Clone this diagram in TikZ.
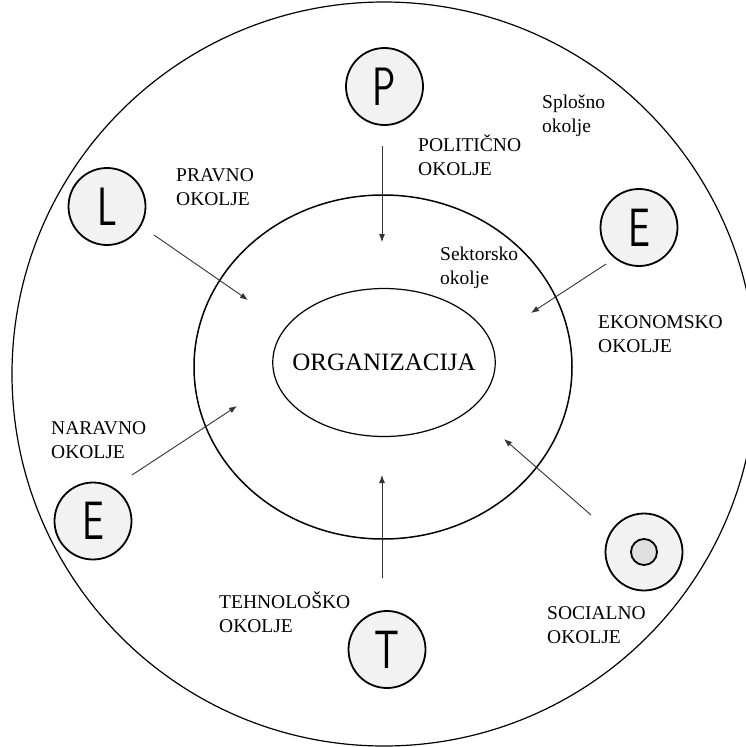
\documentclass[tikz,border=0pt]{standalone}
\usepackage{fontspec}
\setmainfont{Liberation Serif}
\usetikzlibrary{arrows.meta,shapes.geometric}
\newcommand{\pestle}[1]{\scalebox{0.72}[1]{#1}}

\begin{document}
\begin{tikzpicture}[
  x=1pt, y=-1pt,
  font=\fontsize{19.5}{24}\selectfont, >={Latex[length=8pt,width=6pt]},
  ring/.style={draw=black, line width=1.2pt, inner sep=0pt},
  letter/.style={circle, draw=black, line width=1.8pt, fill=black!5, minimum size=77pt, inner sep=0pt, font=\sffamily\fontsize{54}{54}\selectfont},
  lbl/.style={anchor=north west, inner sep=0pt, align=left},
  arr/.style={->, draw=black!80, line width=0.9pt},
]
  \useasboundingbox (0,0) rectangle (745,747);
  \node[ring, circle, minimum size=744pt] (gen) at (384,374) {};
  \node[ring, ellipse, line width=1.5pt, minimum width=378pt, minimum height=344pt] (sect) at (383,367) {};
  \node[ring, ellipse, inner xsep=-13pt, minimum width=217pt, minimum height=148pt, font=\fontsize{25}{29}\selectfont] (org) at (384,362.5) {ORGANIZACIJA};

  \node[letter] (pol) at (384.5,86.5) {\pestle{P}};
  \node[letter] (prav) at (107,206.5) {\pestle{L}};
  \node[letter] (eko) at (639,227.5) {\pestle{E}};
  \node[letter] (nar) at (93,521) {\pestle{E}};
  \node[letter] (teh) at (387,649.5) {\pestle{T}};
  \node[letter] (soc) at (644,552) {};
  \node[circle, draw=black, line width=1.8pt, fill=black!12, minimum size=26pt] (socin) at (soc.center) {};

  \node[lbl] (lgen) at (542,95) {Splošno\\okolje};
  \node[lbl] (lsect) at (440,247) {Sektorsko\\okolje};
  \node[lbl] (lpol) at (418,135) {POLITIČNO\\OKOLJE};
  \node[lbl] (lprav) at (176,168) {PRAVNO\\OKOLJE};
  \node[lbl] (leko) at (598,315) {EKONOMSKO\\OKOLJE};
  \node[lbl] (lnar) at (51,421) {NARAVNO\\OKOLJE};
  \node[lbl] (lteh) at (219,592) {TEHNOLOŠKO\\OKOLJE};
  \node[lbl] (lsoc) at (547,606) {SOCIALNO\\OKOLJE};

  \coordinate (polA) at (382,146);  \coordinate (polB) at (382,242);
  \coordinate (pravA) at (154,235); \coordinate (pravB) at (248,300);
  \coordinate (ekoA) at (606,264);  \coordinate (ekoB) at (531,313);
  \coordinate (narA) at (132,475);  \coordinate (narB) at (237,406);
  \coordinate (tehA) at (382,578);  \coordinate (tehB) at (382,475);
  \coordinate (socA) at (591,515);  \coordinate (socB) at (504,439);
  \foreach \a in {pol,prav,eko,nar,teh,soc} \draw[arr] (\a A) -- (\a B);
\end{tikzpicture}
\end{document}
